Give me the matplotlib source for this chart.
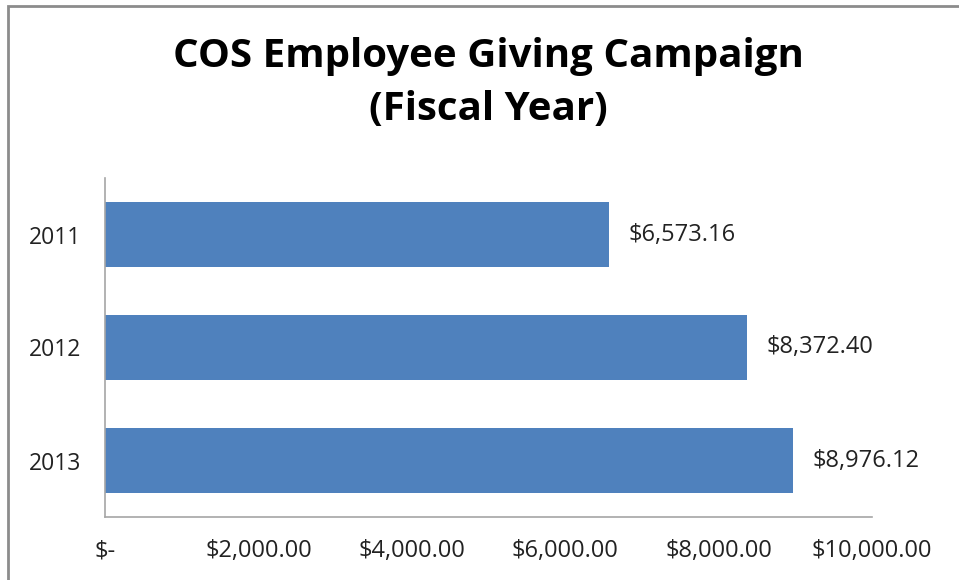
import matplotlib.pyplot as plt
from matplotlib.patches import Rectangle

years = ['2011', '2012', '2013']
amounts = [6573.16, 8372.40, 8976.12]
xticks = [0, 2000, 4000, 6000, 8000, 10000]
xtick_labels = ['$-', '$2,000.00', '$4,000.00', '$6,000.00', '$8,000.00', '$10,000.00']

plt.rcParams['font.family'] = ['Open Sans', 'DejaVu Sans']

fig = plt.figure(figsize=(9.59, 5.8), dpi=100)
ax = fig.add_axes([105/959, 1 - 517/580, (872 - 105)/959, (517 - 178)/580])

ypos = list(range(len(years)))
ax.barh(ypos, amounts, height=0.575, color='#4f81bd')
ax.set_ylim(2.5, -0.5)
ax.set_xlim(0, 10000)
ax.set_yticks(ypos)
ax.set_yticklabels(years, fontsize=16.5, color='#222222')
ax.set_xticks(xticks)
ax.set_xticklabels(xtick_labels, fontsize=17, color='#222222')
ax.tick_params(axis='both', length=0)
ax.tick_params(axis='y', pad=17)
ax.tick_params(axis='x', pad=16)

for s in ['top', 'right']:
    ax.spines[s].set_visible(False)
for s in ['left', 'bottom']:
    ax.spines[s].set_color('#a6a6a6')
    ax.spines[s].set_linewidth(1.2)

for y, v in zip(ypos, amounts):
    ax.annotate('${:,.2f}'.format(v), (v, y), xytext=(14, 0), textcoords='offset points',
                va='center', ha='left', fontsize=17, color='#222222')

fig.text(488/959, 1 - 56/580, 'COS Employee Giving Campaign', ha='center', va='center',
         fontsize=29, fontweight='bold')
fig.text(488/959, 1 - 110/580, '(Fiscal Year)', ha='center', va='center',
         fontsize=29, fontweight='bold')

fig.patches.append(Rectangle((8/959, -0.1), 1.2, 1 - 6/580 + 0.1, transform=fig.transFigure,
                             fill=False, edgecolor='#8c8c8c', linewidth=2))

fig.savefig('out.png', dpi=100)
